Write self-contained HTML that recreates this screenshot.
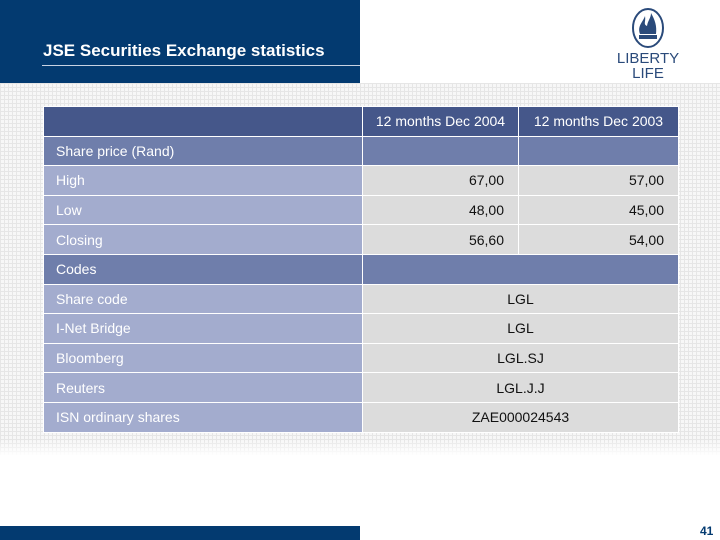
<!DOCTYPE html>
<html><head><meta charset="utf-8"><style>
*{margin:0;padding:0;box-sizing:border-box}
body{width:720px;height:540px;position:relative;background:#fff;font-family:"Liberation Sans",sans-serif;overflow:hidden}
.hdr{position:absolute;left:0;top:0;width:360px;height:83px;background:#033a70}
.title{position:absolute;left:43px;top:41px;color:#fff;font-weight:bold;font-size:17px}
.uline{position:absolute;left:42px;top:65px;width:318px;height:1px;background:#c9d3e3}
.grid{position:absolute;left:0;top:83px;width:720px;height:372px;background-color:#f7f7f7;
background-image:linear-gradient(#e6e6e6 1px,transparent 1px),linear-gradient(90deg,#e6e6e6 1px,transparent 1px);background-size:4px 4px}
.fade{position:absolute;left:0;top:440px;width:720px;height:16px;background:linear-gradient(#fff0,#fff)}
table{position:absolute;left:43px;top:106px;border-collapse:collapse;font-size:14px}
td{height:29.6px;border:1px solid #fff;padding:0 12px;white-space:nowrap}
.h td{background:#45578a;color:#fff;text-align:center;padding:0 4px}
.s td{background:#6f7eab;color:#fff}
.l{background:#a3acce;color:#fff;width:319px}
.v{background:#dcdcdc;color:#111;text-align:right;padding-right:14px}
.c{background:#dcdcdc;color:#111;text-align:center}
.foot{position:absolute;left:0;top:526px;width:360px;height:14px;background:#033a70}
.pn{position:absolute;left:700px;top:524px;font-weight:bold;font-size:12px;color:#033a70}
.logo{position:absolute;left:615px;top:8px;width:66px;text-align:center;color:#2a4a7a;font-size:15px;line-height:15px}
</style></head><body>
<div class="hdr"></div>
<div class="title">JSE Securities Exchange statistics</div>
<div class="uline"></div>
<div class="logo">
<svg width="34" height="40" viewBox="0 0 34 40"><ellipse cx="17" cy="20" rx="15" ry="19" fill="#fff" stroke="#2a4a7a" stroke-width="2"/><path d="M9 26 C6 18 12 14 14 8 C15 14 12 16 16 18 C17 12 20 10 20 5 C24 12 26 18 25 26Z" fill="#2a4a7a"/><rect x="8" y="27" width="18" height="4" fill="#2a4a7a"/></svg>
<div>LIBERTY</div><div>LIFE</div></div>
<div class="grid"></div>
<div class="fade"></div>
<table>
<tr class="h"><td style="width:319px"></td><td style="width:156px">12 months Dec 2004</td><td style="width:160px">12 months Dec 2003</td></tr>
<tr class="s"><td>Share price (Rand)</td><td></td><td></td></tr>
<tr><td class="l">High</td><td class="v">67,00</td><td class="v">57,00</td></tr>
<tr><td class="l">Low</td><td class="v">48,00</td><td class="v">45,00</td></tr>
<tr><td class="l">Closing</td><td class="v">56,60</td><td class="v">54,00</td></tr>
<tr class="s"><td>Codes</td><td colspan="2"></td></tr>
<tr><td class="l">Share code</td><td class="c" colspan="2">LGL</td></tr>
<tr><td class="l">I-Net Bridge</td><td class="c" colspan="2">LGL</td></tr>
<tr><td class="l">Bloomberg</td><td class="c" colspan="2">LGL.SJ</td></tr>
<tr><td class="l">Reuters</td><td class="c" colspan="2">LGL.J.J</td></tr>
<tr><td class="l">ISN ordinary shares</td><td class="c" colspan="2">ZAE000024543</td></tr>
</table>
<div class="foot"></div>
<div class="pn">41</div>
</body></html>
